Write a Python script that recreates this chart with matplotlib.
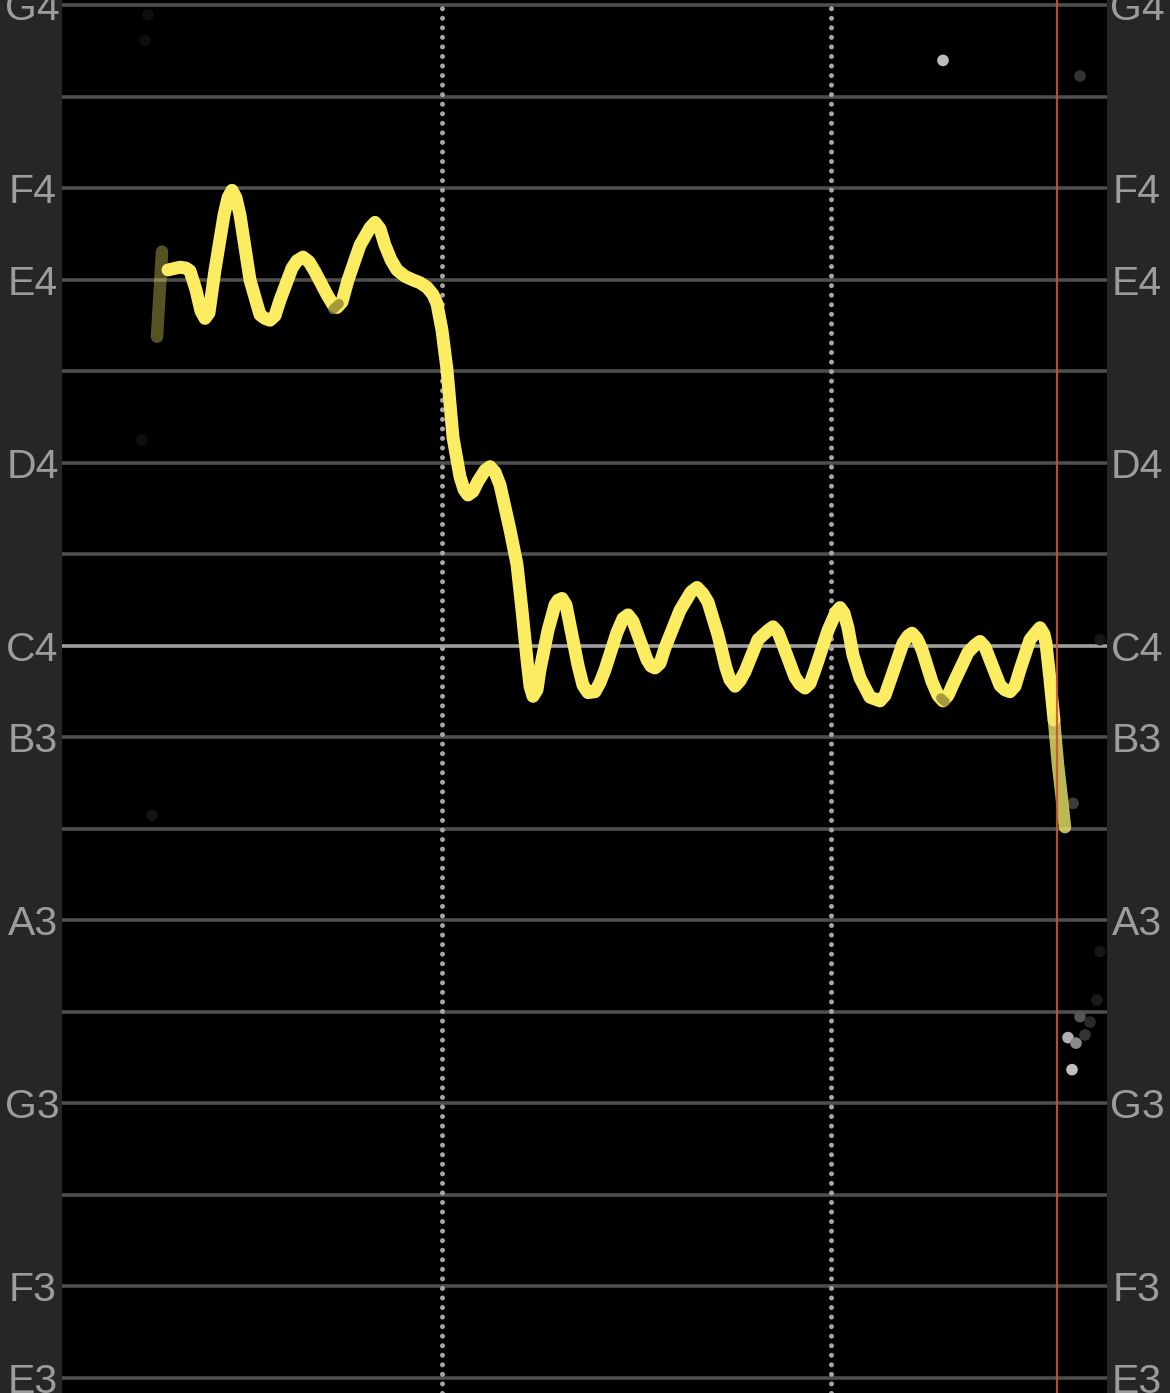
import matplotlib
matplotlib.use("Agg")
import matplotlib.pyplot as plt
import matplotlib.transforms as mtransforms

# ---- data ----
# pitch track: time (ms from left edge of view) and pitch (MIDI note number)
times = [106, 118, 124, 128, 134, 139, 143, 147, 153, 162, 166, 170, 174, 178, 188, 198, 203, 208,
         213, 218, 230, 235, 241, 247, 253, 265, 271, 275, 280, 286, 298, 308, 313, 318, 323, 329,
         335, 343, 351, 358, 365, 371, 375, 380, 385, 391, 398, 402, 406, 411, 416, 423, 428, 433,
         438, 448, 455, 460, 465, 468, 471, 475, 478, 486, 493, 496, 500, 504, 508, 516, 521, 526,
         533, 538, 543, 555, 561, 566, 571, 576, 585, 589, 593, 598, 603, 618, 629, 635, 641, 646,
         656, 664, 668, 673, 678, 683, 696, 706, 711, 716, 721, 733, 738, 743, 748, 753, 766, 774,
         778, 782, 786, 791, 798, 808, 813, 818, 823, 830, 841, 846, 850, 855, 860, 870, 876, 881,
         886, 893, 906, 913, 918, 923, 928, 938, 943, 948, 953, 958, 968, 974, 978, 982, 984, 988,
         992]
pitch = [64.11, 64.14, 64.13, 64.10, 63.89, 63.66, 63.58, 63.64, 64.11, 64.71, 64.90, 64.98, 64.90,
         64.71, 64.00, 63.62, 63.58, 63.56, 63.61, 63.78, 64.13, 64.21, 64.25, 64.20, 64.09, 63.84,
         63.73, 63.70, 63.76, 64.00, 64.38, 64.57, 64.63, 64.56, 64.38, 64.22, 64.11, 64.04, 64.00,
         63.97, 63.92, 63.84, 63.74, 63.45, 63.02, 62.28, 61.85, 61.71, 61.65, 61.69, 61.80, 61.92,
         61.96, 61.90, 61.76, 61.27, 60.89, 60.39, 59.85, 59.56, 59.45, 59.52, 59.74, 60.17, 60.45,
         60.50, 60.52, 60.45, 60.23, 59.79, 59.57, 59.49, 59.50, 59.60, 59.74, 60.15, 60.30, 60.34,
         60.27, 60.12, 59.85, 59.78, 59.76, 59.81, 59.98, 60.39, 60.59, 60.64, 60.57, 60.48, 60.12,
         59.76, 59.63, 59.56, 59.62, 59.72, 60.07, 60.17, 60.21, 60.15, 60.01, 59.66, 59.58, 59.54,
         59.59, 59.74, 60.17, 60.37, 60.42, 60.36, 60.20, 59.90, 59.65, 59.44, 59.42, 59.40, 59.46,
         59.68, 60.03, 60.11, 60.14, 60.08, 59.96, 59.61, 59.46, 59.40, 59.46, 59.63, 59.93, 60.01,
         60.05, 59.99, 59.85, 59.57, 59.52, 59.50, 59.56, 59.74, 60.07, 60.15, 60.20, 60.13, 60.03,
         59.63, 59.19]
# fading tail of the note
tail_times = [992, 996, 1000, 1003]
tail_pitch = [59.19, 58.70, 58.32, 58.02]
# low-confidence onset stroke
onset_times = [100, 95]
onset_pitch = [64.31, 63.38]
# small low-confidence spots on the track
weak_times = [[271, 277], [879, 883]]
weak_pitch = [[63.68, 63.74], [59.43, 59.39]]

# scattered noise detections (time, pitch, grey level)
noise_t = [881, 1018, 1011, 1018, 1006, 1014, 1023, 1028, 1010, 1038, 1035, 1038, 83, 86, 80, 90]
noise_p = [66.40, 66.23, 58.28, 55.95, 55.72, 55.66, 55.75, 55.89, 55.37, 60.07, 56.13, 56.66,
           66.62, 66.90, 62.25, 58.15]
noise_c = ['#bdbdbd', '#333333', '#3c3c3c', '#555555', '#b0b0b0', '#8a8a8a', '#333333', '#2a2a2a',
           '#c0c0c0', '#161616', '#1a1a1a', '#161616', '#0e0e0e', '#0e0e0e', '#0e0e0e', '#131313']

beat_times = [380, 769]
playhead = 995

note_midi = list(range(52, 68))
natural_names = {52: 'E3', 53: 'F3', 55: 'G3', 57: 'A3', 59: 'B3', 60: 'C4',
                 62: 'D4', 64: 'E4', 65: 'F4', 67: 'G4'}

# ---- figure ----
W, H = 1170, 1393
fig = plt.figure(figsize=(W / 100, H / 100), dpi=100, facecolor='#262626')
ax = fig.add_axes([62 / W, 0, 1045 / W, 1])
ax.set_facecolor('black')
ax.set_xlim(0, 1045)
ax.set_ylim(51.836, 67.06)
ax.set_xticks([])
ax.set_yticks([])
for sp in ax.spines.values():
    sp.set_visible(False)

for m in note_midi:
    if m == 60:
        ax.axhline(m, color='#a0a0a0', lw=2.6, zorder=1)
    else:
        ax.axhline(m, color='#4e4e4e', lw=2.6, zorder=1)

for bt in beat_times:
    ax.axvline(bt, color='#a6a6a6', lw=3.6, linestyle=(0, (0.01, 1.9)),
               dash_capstyle='round', zorder=2)

ax.scatter(noise_t, noise_p, s=70, c=noise_c, linewidths=0, zorder=3)

yellow = '#fcec62'
ax.plot(onset_times, onset_pitch, color=yellow, alpha=0.35, lw=9,
        solid_capstyle='round', zorder=4)
ax.plot(times, pitch, color=yellow, lw=9.3, solid_capstyle='round',
        solid_joinstyle='round', zorder=5)
ax.plot(tail_times, tail_pitch, color='#eee66a', alpha=0.8, lw=9,
        solid_capstyle='round', zorder=5)
for wt, wp in zip(weak_times, weak_pitch):
    ax.plot(wt, wp, color='#8f8432', lw=7, solid_capstyle='round', zorder=6, alpha=0.8)

ax.axvline(playhead, color='#c4582f', lw=1.6, zorder=7, alpha=0.9)

# note labels on both side panels
trans = mtransforms.blended_transform_factory(fig.transFigure, ax.transData)
trans = mtransforms.offset_copy(trans, fig=fig, y=-15, units='dots')
for m, name in natural_names.items():
    for xpix in (32.5, 1137):
        fig.text(xpix / W, m, name, transform=trans, ha='center', va='baseline',
                 fontsize=29.5, color='#9c9c9c', family=['Liberation Sans', 'DejaVu Sans'])

fig.savefig('out.png', dpi=100, facecolor=fig.get_facecolor())
